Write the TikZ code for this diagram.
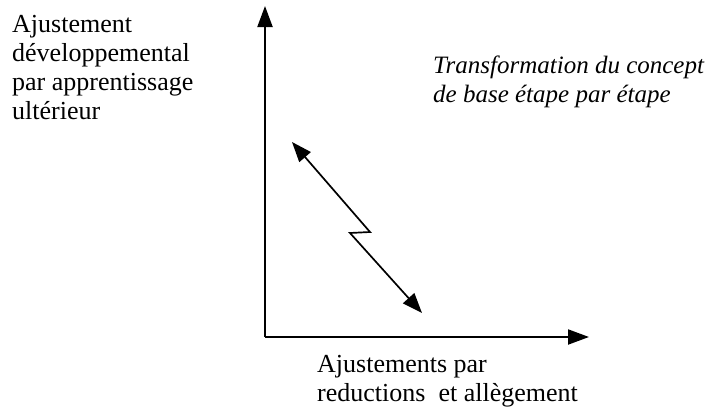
\documentclass[tikz,border=0pt]{standalone}
\usepackage{fontspec}
\setmainfont{Liberation Serif}
\usetikzlibrary{arrows.meta}

\tikzset{
  axis/.style={line width=2pt, -{Triangle[length=21pt,width=15pt]}},
  jump/.style={line width=1.7pt, {Triangle[length=20pt,width=15pt]}-{Triangle[length=20pt,width=15pt]}},
  label/.style={inner sep=0pt, align=left, anchor=base west, font=\fontsize{26}{29}\selectfont}
}

\begin{document}
\begin{tikzpicture}[x=1pt,y=-1pt]

\useasboundingbox (0,0) rectangle (713,407);

\coordinate (O) at (265,337);
\coordinate (ytop) at (265,6);
\coordinate (xend) at (589,337);

\coordinate (a) at (292,142);
\coordinate (b) at (370,232);
\coordinate (c) at (350,233);
\coordinate (d) at (422,313);

\draw[axis] (O) -- (ytop);
\draw[axis] (O) -- (xend);

\draw[jump, line join=miter] (a) -- (b) -- (c) -- (d);

%% texts (anchored on the baseline of their last line)
\node[label] (dev) at (12,119) {Ajustement\\d\'eveloppemental\\par apprentissage\\ult\'erieur};
\node[label, font=\fontsize{25}{29}\selectfont\itshape] (transf) at (433,102) {Transformation du concept\\de base \'etape par \'etape};
\node[label] (red) at (317,401) {Ajustements par\\reductions\ \ et all\`egement};

\end{tikzpicture}
\end{document}
